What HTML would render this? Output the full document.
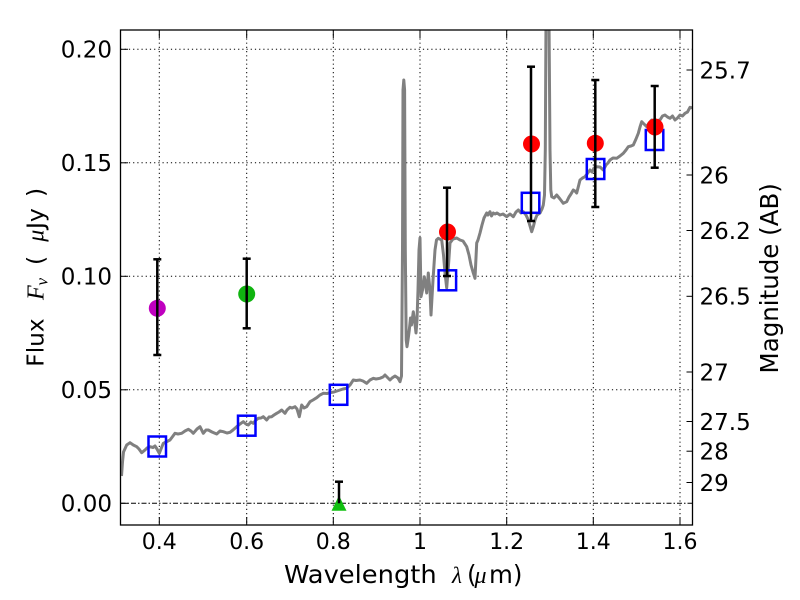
<!DOCTYPE html>
<html>
<head>
<meta charset="utf-8">
<style>
  html, body { margin: 0; padding: 0; background: #ffffff; }
  svg { display: block; }
  text { font-family: "DejaVu Sans", "Liberation Sans", sans-serif; fill: #000; }
  .tick { font-size: 23px; }
  .math { font-family: "Liberation Serif", "DejaVu Serif", serif; font-style: italic; }
</style>
</head>
<body>
<svg width="800" height="600" viewBox="0 0 800 600" xmlns="http://www.w3.org/2000/svg">
  <rect x="0" y="0" width="800" height="600" fill="#ffffff"/>
  <defs>
    <clipPath id="ax">
      <rect x="120.5" y="30" width="572" height="495"/>
    </clipPath>
  </defs>

  <!-- grid -->
  <g stroke="#000" stroke-width="1" stroke-dasharray="1.2 3" fill="none">
    <line x1="159.3" y1="30" x2="159.3" y2="525"/>
    <line x1="246.7" y1="30" x2="246.7" y2="525"/>
    <line x1="333.3" y1="30" x2="333.3" y2="525"/>
    <line x1="420" y1="30" x2="420" y2="525"/>
    <line x1="506.7" y1="30" x2="506.7" y2="525"/>
    <line x1="593.3" y1="30" x2="593.3" y2="525"/>
    <line x1="680" y1="30" x2="680" y2="525"/>
    <line x1="120.5" y1="49.3" x2="692.5" y2="49.3"/>
    <line x1="120.5" y1="162.8" x2="692.5" y2="162.8"/>
    <line x1="120.5" y1="276.3" x2="692.5" y2="276.3"/>
    <line x1="120.5" y1="389.8" x2="692.5" y2="389.8"/>
  </g>
  <line x1="120.5" y1="503.3" x2="692.5" y2="503.3" stroke="#000" stroke-width="1" stroke-dasharray="5 2 1.5 2"/>

  <g clip-path="url(#ax)">
    <!-- spectrum -->
    <polyline fill="none" stroke="#808080" stroke-width="3" stroke-linejoin="round" points="
      121.5,476 122.5,462 123.5,452 126.7,445 130,442.7 133.3,445 136.7,446.7 139,449 141.7,452.7 145,450 147,448 150,446.7 153,447.5 155,446 157,449 159.3,453.3 161,449 163.3,443.3 167,441.5 170,440 173,436 175,433.3 178,434 181.7,433.3 185,431 188.3,429.3 191,431 193.3,433.3 197,429 200,426.7 203.3,433.3 206,430 208.3,430 212,432 216.7,434 220,431 223.3,431.7 227,433 230,432.3 233,430 236.7,426.7 240,424 243.3,421.7 246,424 248.3,425 251,422 253.3,423.3 256,420 258.3,418.3 261,418 263.3,416.7 266.7,420 269,417 271.7,416.7 274,415 276.7,413.3 279,412 281.7,410 285,413.3 287,410 290,407.3 292,408 295,406.7 297,409 299.3,416.7 301.7,405 304,408 306.7,406.7 310,401.7 313,400 316.7,397.7 320,395 323.3,393.3 327,393.5 330,392.7 334,392 337,391 340,390 343,389 346.7,388.3 350,385 353.3,380 356,380.5 360,380 363,381 366.7,383.3 370,380 373.3,378.3 376,379 380,378.3 383,377 385,375 387,377 390,380 392,378 395,376 398,378 400,381.7 401.5,376 402.5,250 403,90 403.8,80 404.6,90 405.3,250 406.2,340 407,346.7 408,340 409.3,330 410.5,318 411.5,325 413.3,311.7 414.5,320 416,333 417,320 418,290 419,250 420,238 421,296.7 422.5,290 424.3,276.7 426.7,293 428.3,273 430,290 431,315 433,280 435,250 436.5,240 438.3,238.3 441.7,240 443.5,255 445,273 446.7,288 448.5,265 450,243 453,239 456.7,238 460,240 463,241 466.7,246.7 469,255 471,265 473,272 475,278.3 476.7,243 478,240 480,233 482,225 484,218 486.7,213 488,215 490,211.7 491.5,216 493.3,213 495,214 497,213 500,215 503,214 506.7,216.7 510,214 513.3,216.7 516,212 518.3,210 521,213 523.3,211.7 526,215 528.3,220 530,226 531.7,231.7 533.5,226 535,220 537,215 540,213 542,209 543.3,205 544.5,195 545.3,150 546,20 549,20 550,150 550.8,190 551.7,196.7 554,198 556.7,195 560,199 563.3,203.3 566.7,201.7 569,197 571,194 573.3,190 575,191 576.7,193 578.5,186 580,180 582.5,178 585,176.7 587,174 590,170 592,172 594,168 596.7,166.7 600,167 603.3,170 606,165 608,163 610,160 613,158 616.7,158.3 620,156 623.3,153.3 626,150 628.3,146.7 631,146 633.3,145 636,139 638.3,133.3 640,127 641.7,121.7 644,124 646.7,126.7 649,123 651.7,120 655,121 660,120 662.5,116 665,115 667.5,117 670,118.3 672.5,116 675,120 677.5,118 680,115 682.5,116 685,113.3 687.5,112 690,107.3 693,108"/>

    <!-- model squares -->
    <g fill="none" stroke="#0000ff" stroke-width="2.5">
      <rect x="148.5" y="436.5" width="17.5" height="20"/>
      <rect x="238" y="415.7" width="17.5" height="20"/>
      <rect x="329.8" y="384.8" width="17.5" height="20"/>
      <rect x="438.6" y="270.3" width="17.5" height="20"/>
      <rect x="521.8" y="192.8" width="17.5" height="20"/>
      <rect x="586.8" y="159" width="17.5" height="20"/>
      <rect x="645.8" y="130" width="17.5" height="20"/>
    </g>

    <!-- observed points -->
    <circle cx="157.3" cy="308.3" r="8.5" fill="#bf00bf"/>
    <circle cx="246.7" cy="294" r="8.5" fill="#10b410"/>
    <polygon points="339,495.5 331.5,510.8 346.5,510.8" fill="#10c010"/>
    <circle cx="447.5" cy="232" r="8.5" fill="#ff0000"/>
    <circle cx="531.5" cy="144" r="8.5" fill="#ff0000"/>
    <circle cx="595.3" cy="143.3" r="8.5" fill="#ff0000"/>
    <circle cx="655" cy="127" r="8.5" fill="#ff0000"/>

    <!-- error bars -->
    <g stroke="#000" stroke-width="2.5" fill="none">
      <line x1="157.3" y1="259.3" x2="157.3" y2="355"/>
      <line x1="153.3" y1="259.3" x2="161.3" y2="259.3"/>
      <line x1="153.3" y1="355" x2="161.3" y2="355"/>

      <line x1="246.7" y1="258.7" x2="246.7" y2="328.3"/>
      <line x1="242.7" y1="258.7" x2="250.7" y2="258.7"/>
      <line x1="242.7" y1="328.3" x2="250.7" y2="328.3"/>

      <line x1="339" y1="481.7" x2="339" y2="503.3"/>
      <line x1="335" y1="481.7" x2="343" y2="481.7"/>

      <line x1="447" y1="187.7" x2="447" y2="276"/>
      <line x1="443" y1="187.7" x2="451" y2="187.7"/>
      <line x1="443" y1="276" x2="451" y2="276"/>

      <line x1="531" y1="66.7" x2="531" y2="221"/>
      <line x1="527" y1="66.7" x2="535" y2="66.7"/>
      <line x1="527" y1="221" x2="535" y2="221"/>

      <line x1="595.3" y1="80" x2="595.3" y2="207"/>
      <line x1="591.3" y1="80" x2="599.3" y2="80"/>
      <line x1="591.3" y1="207" x2="599.3" y2="207"/>

      <line x1="654.7" y1="86" x2="654.7" y2="167.7"/>
      <line x1="650.7" y1="86" x2="658.7" y2="86"/>
      <line x1="650.7" y1="167.7" x2="658.7" y2="167.7"/>
    </g>
  </g>

  <!-- ticks -->
  <g stroke="#000" stroke-width="1">
    <line x1="120.5" y1="49.3" x2="128" y2="49.3"/>
    <line x1="120.5" y1="162.8" x2="128" y2="162.8"/>
    <line x1="120.5" y1="276.3" x2="128" y2="276.3"/>
    <line x1="120.5" y1="389.8" x2="128" y2="389.8"/>
    <line x1="120.5" y1="503.3" x2="128" y2="503.3"/>
    <line x1="159.3" y1="525" x2="159.3" y2="517"/><line x1="159.3" y1="30" x2="159.3" y2="38"/>
    <line x1="246.7" y1="525" x2="246.7" y2="517"/><line x1="246.7" y1="30" x2="246.7" y2="38"/>
    <line x1="333.3" y1="525" x2="333.3" y2="517"/><line x1="333.3" y1="30" x2="333.3" y2="38"/>
    <line x1="420" y1="525" x2="420" y2="517"/><line x1="420" y1="30" x2="420" y2="38"/>
    <line x1="506.7" y1="525" x2="506.7" y2="517"/><line x1="506.7" y1="30" x2="506.7" y2="38"/>
    <line x1="593.3" y1="525" x2="593.3" y2="517"/><line x1="593.3" y1="30" x2="593.3" y2="38"/>
    <line x1="680" y1="525" x2="680" y2="517"/><line x1="680" y1="30" x2="680" y2="38"/>
    <line x1="692.5" y1="70" x2="686.5" y2="70"/>
    <line x1="692.5" y1="175" x2="686.5" y2="175"/>
    <line x1="692.5" y1="230.5" x2="686.5" y2="230.5"/>
    <line x1="692.5" y1="296.3" x2="686.5" y2="296.3"/>
    <line x1="692.5" y1="372" x2="686.5" y2="372"/>
    <line x1="692.5" y1="421.5" x2="686.5" y2="421.5"/>
    <line x1="692.5" y1="451.2" x2="686.5" y2="451.2"/>
    <line x1="692.5" y1="482.5" x2="686.5" y2="482.5"/>
  </g>

  <!-- frame -->
  <rect x="120.5" y="30" width="572" height="495" fill="none" stroke="#000" stroke-width="1.3"/>

  <!-- left tick labels -->
  <g class="tick" text-anchor="end">
    <text x="112" y="57.6">0.20</text>
    <text x="112" y="171.1">0.15</text>
    <text x="112" y="284.6">0.10</text>
    <text x="112" y="398.1">0.05</text>
    <text x="112" y="511.6">0.00</text>
  </g>

  <!-- bottom tick labels -->
  <g class="tick" text-anchor="middle" style="font-size:22px">
    <text x="159.3" y="549">0.4</text>
    <text x="246.7" y="549">0.6</text>
    <text x="333.3" y="549">0.8</text>
    <text x="420" y="549">1</text>
    <text x="506.7" y="549">1.2</text>
    <text x="593.3" y="549">1.4</text>
    <text x="680" y="549">1.6</text>
  </g>

  <!-- right tick labels -->
  <g class="tick" text-anchor="start">
    <text x="699.5" y="78.3">25.7</text>
    <text x="699.5" y="183.3">26</text>
    <text x="699.5" y="238.8">26.2</text>
    <text x="699.5" y="304.6">26.5</text>
    <text x="699.5" y="380.3">27</text>
    <text x="699.5" y="429.8">27.5</text>
    <text x="699.5" y="459.5">28</text>
    <text x="699.5" y="490.8">29</text>
  </g>

  <!-- x label -->
  <g style="font-size:24.5px">
    <text x="284" y="583" textLength="152.7" lengthAdjust="spacingAndGlyphs">Wavelength</text>
    <text x="452" y="583" class="math" style="font-size:23px">λ</text>
    <text x="467" y="583">(</text>
    <text x="474.5" y="583" class="math" style="font-size:24px">μ</text>
    <text x="489" y="583">m)</text>
  </g>

  <!-- y label -->
  <g transform="translate(43.3,0) rotate(-90)" style="font-size:23.5px">
    <text x="-366.7" y="0" textLength="48.4" lengthAdjust="spacingAndGlyphs">Flux</text>
    <text x="-300" y="0" class="math" style="font-size:24px">F</text>
    <text x="-285.5" y="4" class="math" style="font-size:17px">ν</text>
    <text x="-265" y="0">(</text>
    <text x="-241.7" y="0" class="math" style="font-size:24px">μ</text>
    <text x="-229" y="0">Jy</text>
    <text x="-197" y="0">)</text>
  </g>

  <!-- right label -->
  <text transform="translate(778,278.3) rotate(-90)" text-anchor="middle" style="font-size:24.5px">Magnitude (AB)</text>
</svg>
</body>
</html>
